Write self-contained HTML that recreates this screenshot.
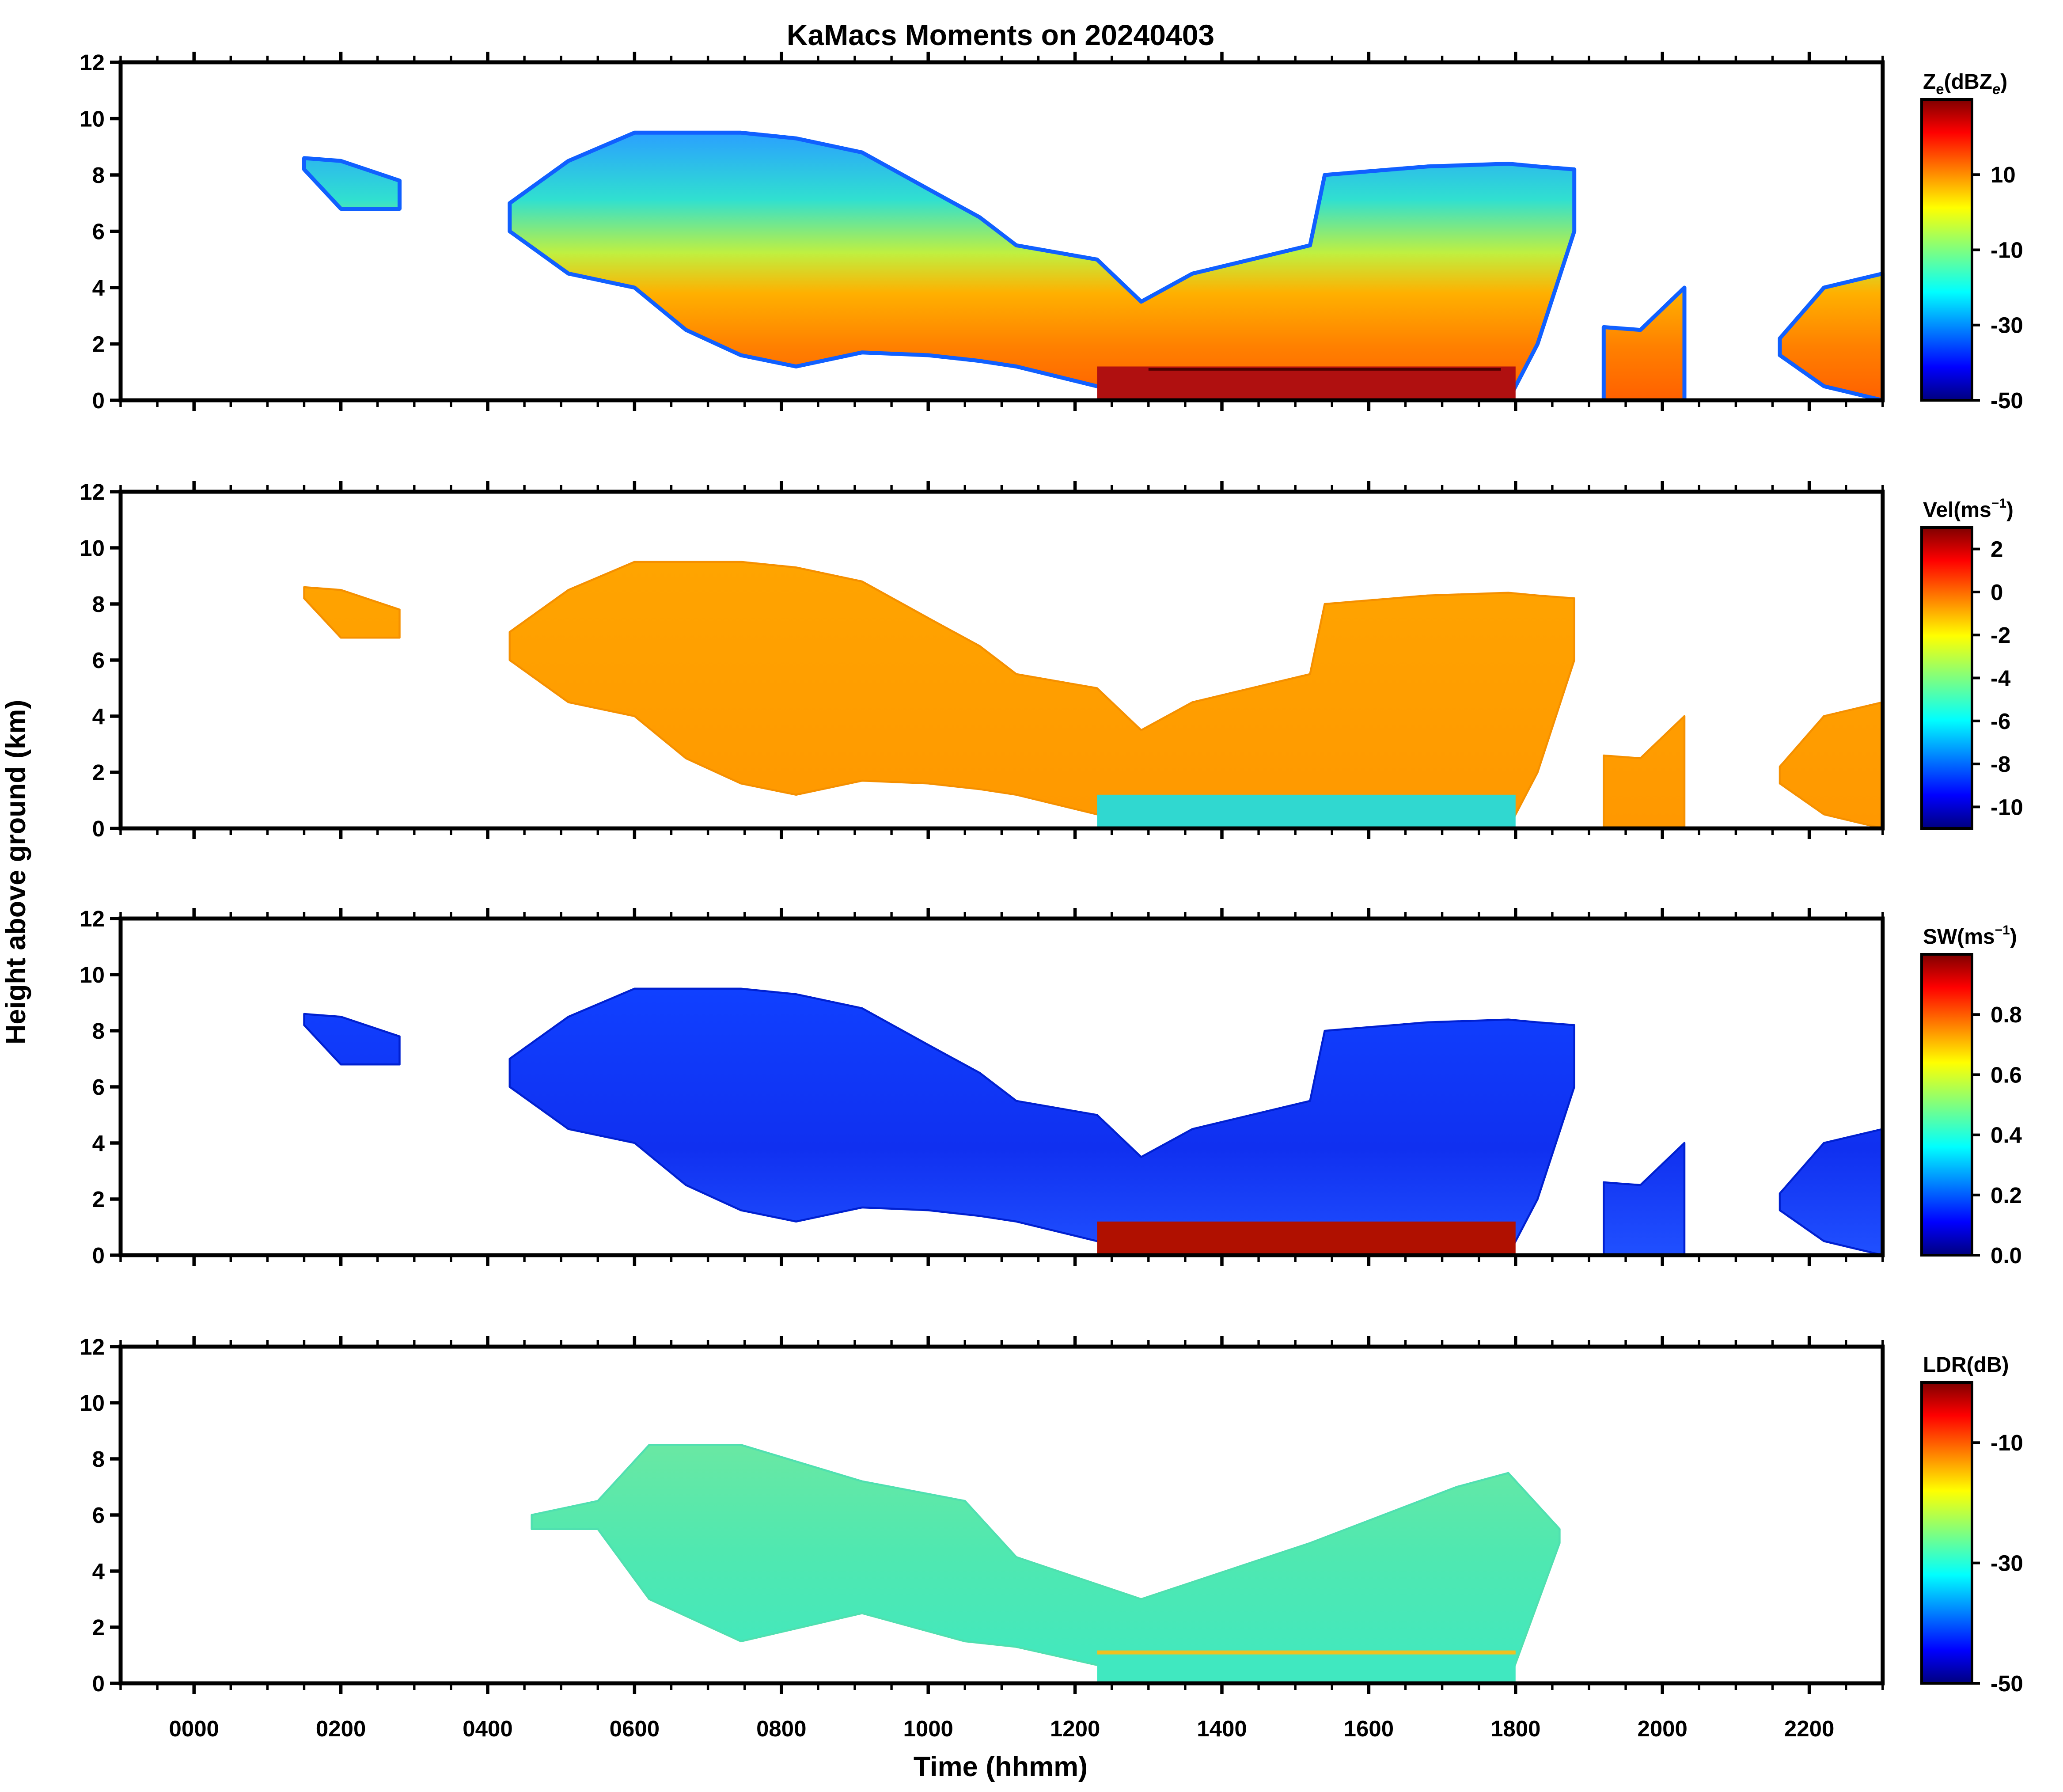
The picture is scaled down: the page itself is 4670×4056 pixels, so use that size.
<!DOCTYPE html>
<html><head><meta charset="utf-8"><style>html,body{margin:0;padding:0;background:#fff}svg{display:block}</style></head>
<body>
<svg id="fig" xmlns="http://www.w3.org/2000/svg" width="4670" height="4056" viewBox="0 0 1556.67 1352" font-family="'Liberation Sans','DejaVu Sans',sans-serif" font-weight="bold">
<defs>
<linearGradient id="jet" x1="0" y1="1" x2="0" y2="0">
<stop offset="0" stop-color="#00007f"/><stop offset="0.11" stop-color="#0000ff"/><stop offset="0.36" stop-color="#00ffff"/><stop offset="0.5" stop-color="#7fff7f"/><stop offset="0.64" stop-color="#ffff00"/><stop offset="0.89" stop-color="#ff0000"/><stop offset="1" stop-color="#7f0000"/>
</linearGradient>
</defs>
<text x="755" y="34" text-anchor="middle" font-size="22">KaMacs Moments on 20240403</text>
<text transform="translate(19,658) rotate(-90)" text-anchor="middle" font-size="21">Height above ground (km)</text>
<text x="755" y="1340" text-anchor="middle" font-size="21">Time (hhmm)</text>
<g id="plots"></g>
</svg>
<script>
// Main cloud (hours since 0000, km)
const mainTime = [4.3,5.1,6.0,6.7,7.45,8.2,9.1,10.0,10.7,11.2,12.3,12.9,13.6,15.2,15.4,16.8,17.9,18.3,18.8];
const mainTop  = [7.0,8.5,9.5,9.5,9.5,9.3,8.8,7.5,6.5,5.5,5.0,3.5,4.5,5.5,8.0,8.3,8.4,8.3,8.2];
const mainBase = [6.0,4.5,4.0,2.5,1.6,1.2,1.7,1.6,1.4,1.2,0.5,0,0,0,0,0,0,2.0,6.0];
const leftTime = [1.5,2.0,2.8];
const leftTop  = [8.6,8.5,7.8];
const leftBase = [8.2,6.8,6.8];
const rightATime = [19.2,19.7,20.3];
const rightATop  = [2.6,2.5,4.0];
const rightABase = [0,0,0];
const rightBTime = [21.6,22.2,23.0];
const rightBTop  = [2.2,4.0,4.5];
const rightBBase = [1.6,0.5,0];
// LDR cloud
const ldrTime = [4.6,5.5,6.2,7.45,9.1,10.5,11.2,12.9,15.2,17.2,17.9,18.6];
const ldrTop  = [6.0,6.5,8.5,8.5,7.2,6.5,4.5,3.0,5.0,7.0,7.5,5.5];
const ldrBase = [5.5,5.5,3.0,1.5,2.5,1.5,1.3,0.3,0,0,0,5.0];
const bandStart = 12.3, bandEnd = 18.0, bandTop = 1.2;
const xTickLabels = ['0000','0200','0400','0600','0800','1000','1200','1400','1600','1800','2000','2200'];
const yTicks = [0,2,4,6,8,10,12];
const cbTicks = [[-50,-30,-10,10],[2,0,-2,-4,-6,-8,-10],[0.0,0.2,0.4,0.6,0.8],[-50,-30,-10]];
const cbRange = [[-50,30],[-11,3],[0,1],[-50,0]];
const cbTitles = ['Z<tspan font-size="11" dy="4">e</tspan><tspan dy="-4">(dBZ</tspan><tspan font-size="11" dy="4" font-style="italic">e</tspan><tspan dy="-4">)</tspan>','Vel(ms<tspan font-size="10" dy="-7">−1</tspan><tspan dy="7">)</tspan>','SW(ms<tspan font-size="10" dy="-7">−1</tspan><tspan dy="7">)</tspan>','LDR(dB)'];
const panelTops = [47,371,693,1016], panelBots = [302,625,947,1270], cbTopsArr = [75,398,720,1043];

const NS = 'http://www.w3.org/2000/svg';
const root = document.getElementById('plots');
const X0 = 91, X1 = 1420.6;
const xs = h => X0 + (h + 1) / 24 * (X1 - X0);
function mk(tag, attrs, parent) { const e = document.createElementNS(NS, tag); for (const k in attrs) e.setAttribute(k, attrs[k]); (parent || root).appendChild(e); return e; }
function poly(t, top, base, ys) {
  const pts = [];
  for (let i = 0; i < t.length; i++) pts.push(xs(t[i]).toFixed(1) + ',' + ys(top[i]).toFixed(1));
  for (let i = t.length - 1; i >= 0; i--) pts.push(xs(t[i]).toFixed(1) + ',' + ys(base[i]).toFixed(1));
  return pts.join(' ');
}
const fills = [
  [['0','#2aa0ff'],['0.25','#30e0d0'],['0.45','#c0f040'],['0.6','#ffb000'],['0.8','#ff8000'],['1','#ff6000']],
  [['0','#ffa400'],['1','#ff9800']],
  [['0','#1040ff'],['0.6','#1030f0'],['1','#2050ff']],
  [['0','#70e8a0'],['0.5','#50e8b0'],['1','#40e8c0']]
];
const strokes = ['#1060ff','#f59000','#0020d0','#50e0b0'];
const svg = document.getElementById('fig');
const defs = svg.querySelector('defs');
for (let p = 0; p < 4; p++) {
  const T = panelTops[p], B = panelBots[p];
  const ys = v => B - v / 12 * (B - T);
  const g = mk('g', {}, root);
  
  
  const gr = mk('linearGradient', {id: 'f' + p, gradientUnits: 'userSpaceOnUse', x1: 0, y1: ys(9.5), x2: 0, y2: ys(0)}, defs);
  fills[p].forEach(s => mk('stop', {offset: s[0], 'stop-color': s[1]}, gr));
  const clouds = p < 3 ? [[mainTime, mainTop, mainBase], [leftTime, leftTop, leftBase], [rightATime, rightATop, rightABase], [rightBTime, rightBTop, rightBBase]] : [[ldrTime, ldrTop, ldrBase]];
  clouds.forEach((c, i) => {
    const e = mk('polygon', {points: poly(c[0], c[1], c[2], ys), fill: 'url(#f' + p + ')', stroke: strokes[p], 'stroke-width': p === 0 ? 3 : 1.5, 'stroke-linejoin': 'round'}, g);
    
    
  });
  const bandCol = ['#b01010', '#30d8d0', '#b01000', '#40e8c0'][p];
  const band = mk('rect', {x: xs(bandStart), y: ys(bandTop), width: xs(bandEnd) - xs(bandStart), height: ys(0) - ys(bandTop), fill: bandCol}, g);
  
  
  if (p === 3) mk('line', {x1: xs(bandStart), x2: xs(bandEnd), y1: ys(1.1), y2: ys(1.1), stroke: '#f0c020', 'stroke-width': 3}, g);
  if (p === 0) mk('line', {x1: xs(13), x2: xs(17.8), y1: ys(1.1), y2: ys(1.1), stroke: '#500000', 'stroke-width': 2}, g);
  const fr = mk('rect', {x: X0, y: T, width: X1 - X0, height: B - T, fill: 'none', stroke: '#000', 'stroke-width': 3}, g);
  
  
  for (let m = -1; m <= 23.01; m += 0.5) {
    const major = Math.abs(m / 2 - Math.round(m / 2)) < 1e-6;
    const L = major ? 8 : 5;
    mk('line', {x1: xs(m), x2: xs(m), y1: B, y2: B + L, stroke: '#000', 'stroke-width': major ? 2.5 : 1.8}, g);
    mk('line', {x1: xs(m), x2: xs(m), y1: T, y2: T - L, stroke: '#000', 'stroke-width': major ? 2.5 : 1.8}, g);
  }
  yTicks.forEach(v => {
    mk('line', {x1: X0, x2: X0 - 8, y1: ys(v), y2: ys(v), stroke: '#000', 'stroke-width': 2.5}, g);
    const t = mk('text', {x: X0 - 12, y: ys(v) + 6, 'text-anchor': 'end', 'font-size': 17}, g);
    t.textContent = v;
    
    
  });
  if (p === 3) xTickLabels.forEach((s, i) => {
    const t = mk('text', {x: xs(i * 2), y: 1310, 'text-anchor': 'middle', 'font-size': 17}, g);
    t.textContent = s;
    
    
  });
  const cT = cbTopsArr[p], cB = B, cx = 1450, cw = 38;
  const cb = mk('rect', {x: cx, y: cT, width: cw, height: cB - cT, fill: 'url(#jet)', stroke: '#000', 'stroke-width': 2}, g);
  
  
  const [lo, hi] = cbRange[p];
  cbTicks[p].forEach(v => {
    const y = cB - (v - lo) / (hi - lo) * (cB - cT);
    mk('line', {x1: cx + cw, x2: cx + cw + 6, y1: y, y2: y, stroke: '#000', 'stroke-width': 2}, g);
    const t = mk('text', {x: cx + cw + 14, y: y + 6, 'font-size': 17}, g);
    t.textContent = p === 2 ? v.toFixed(1) : v;
    
    
  });
  const ct = mk('text', {x: 1451, y: cT - 8, 'font-size': 16}, g);
  ct.innerHTML = cbTitles[p];
  
  
}
</script>
</body></html>
